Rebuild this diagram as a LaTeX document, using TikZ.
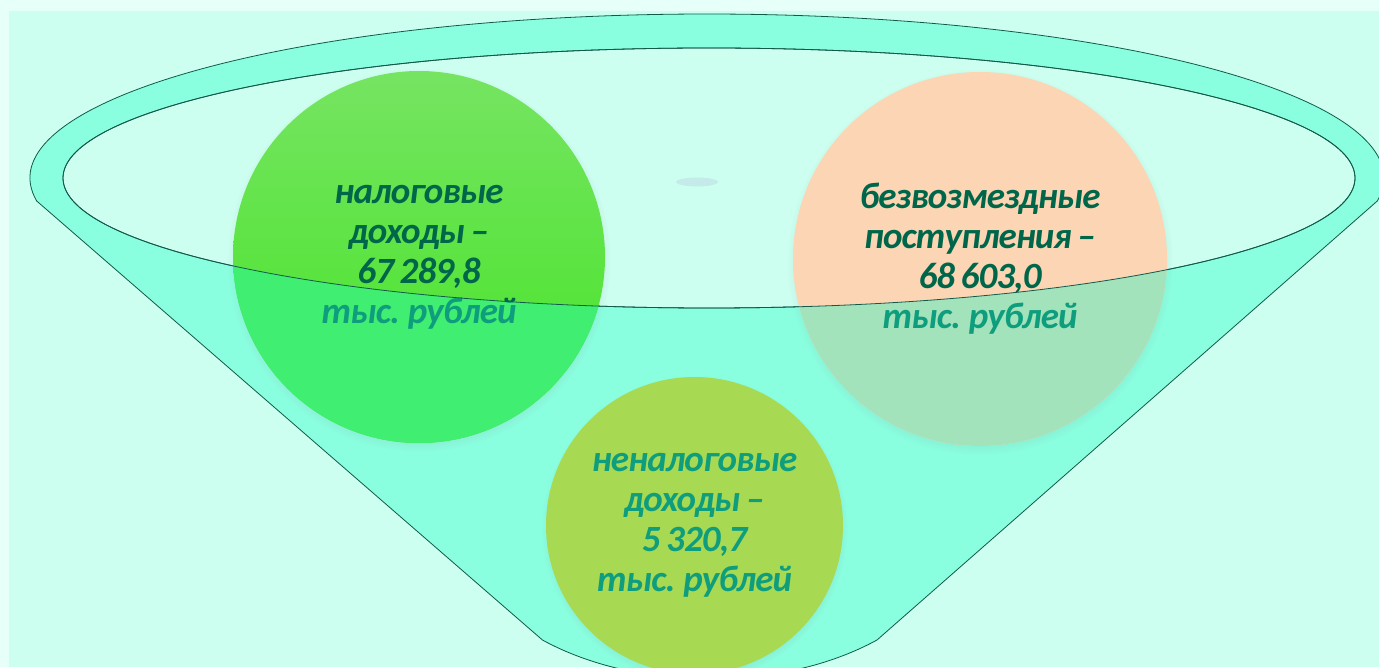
\documentclass[tikz,border=0pt]{standalone}
\usepackage{fontspec}
\setmainfont{Carlito}
\newfontfamily\bubblefont[LetterSpace=-2.5,WordSpace=0.75]{Carlito}
\usetikzlibrary{shadows}

\definecolor{margin}{HTML}{E6FFF8}
\definecolor{paper}{HTML}{CCFFF0}
\definecolor{funnel}{HTML}{8AFFE0}
\definecolor{rim}{HTML}{115A4A}
\definecolor{grtop}{HTML}{76E462}
\definecolor{grbot}{HTML}{44E424}
\definecolor{grlow}{HTML}{40EE72}
\definecolor{peach}{HTML}{FBD5B4}
\definecolor{peachlow}{HTML}{A3E3BC}
\definecolor{lime}{HTML}{A8D952}
\definecolor{txtdark}{HTML}{00664A}
\definecolor{txtteal}{HTML}{0E9E7E}
\definecolor{spot}{HTML}{C4EBEA}

\begin{document}
\begin{tikzpicture}[x=1pt,y=1pt,
  bubble/.style={circle,inner sep=0pt,align=center,
    font=\bubblefont\bfseries\itshape\fontsize{37}{40}\selectfont},
  shade/.style={circular drop shadow={shadow scale=1.03,shadow xshift=0pt,shadow yshift=-3pt,opacity=0.3}},
  rimline/.style={draw=rim,line width=0.8pt}]
\useasboundingbox (0,0) rectangle (1379,667);
% page
\fill[margin] (0,0) rectangle (1379,667);
\fill[paper] (9,0) rectangle (1379,656);
% funnel body and bowl
\filldraw[fill=funnel,rimline] (36.7,466) arc[start angle=188.06,end angle=-8.06,x radius=677,y radius=164]
  -- (877,27) arc[start angle=312,end angle=228,x radius=250,y radius=152] -- cycle;
\filldraw[fill=paper,rimline] (709,489) ellipse[x radius=646,y radius=130];
\fill[spot] (697,485) ellipse[x radius=21,y radius=4.5];
% circles, upper parts
\node[bubble,shade,top color=grtop,bottom color=grbot,minimum size=372pt,text=txtdark] (nalog) at (419,410)
  {налоговые\\доходы –\\67 289,8\\тыс. рублей};
\node[bubble,shade,fill=peach,minimum size=374pt,text=txtdark] (bezvozm) at (980,408)
  {безвозмездные\\поступления –\\68 603,0\\тыс. рублей};
% circles, parts under the rim
\begin{scope}[even odd rule]
\clip (0,0) rectangle (1379,667) (709,489) ellipse[x radius=646,y radius=130];
\node[bubble,fill=grlow,minimum size=372pt,text=txtteal] (nalogLow) at (419,410)
  {налоговые\\доходы –\\67 289,8\\тыс. рублей};
\node[bubble,fill=peachlow,minimum size=374pt,text=txtteal] (bezvozmLow) at (980,408)
  {безвозмездные\\поступления –\\68 603,0\\тыс. рублей};
\end{scope}
\node[bubble,shade,fill=lime,minimum size=297pt,text=txtteal] (nenalog) at (694.5,141.5)
  {неналоговые\\доходы –\\5 320,7\\тыс. рублей};
% rim line over the circles
\draw[rimline] (709,489) ellipse[x radius=646,y radius=130];
\end{tikzpicture}
\end{document}
